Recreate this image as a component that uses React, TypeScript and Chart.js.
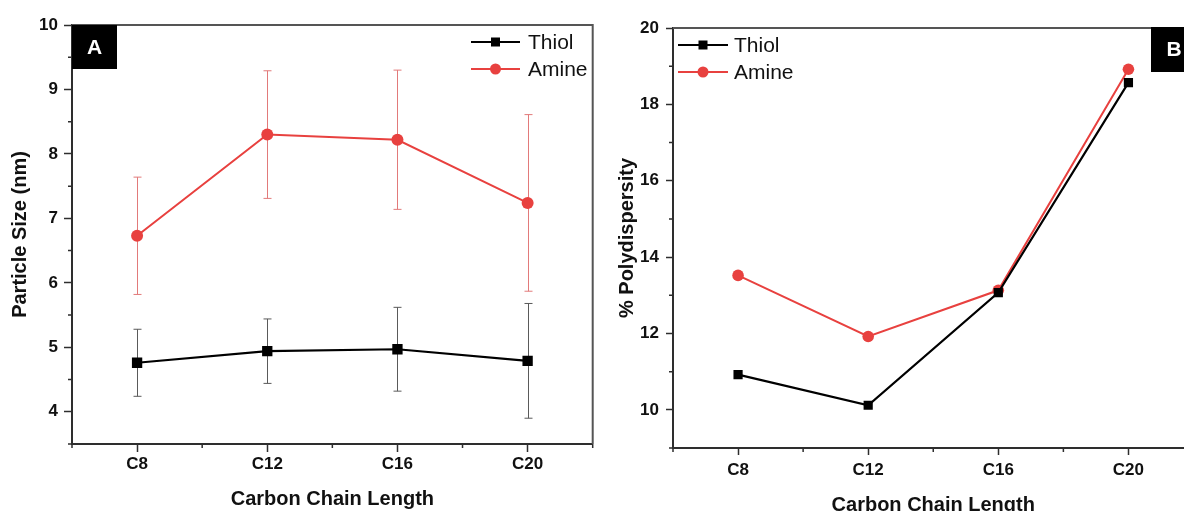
import React, { useEffect, useRef } from 'react';
import { Chart, registerables } from 'chart.js';

Chart.register(...registerables);

// ---------- data ----------
const categories = ['C8', 'C12', 'C16', 'C20'];
const seriesNames = ['Thiol', 'Amine'];

// Panel A: particle size (nm) with error bars
const sizeThiol = [4.76, 4.94, 4.97, 4.79];
const sizeThiolErr = [0.52, 0.5, 0.65, 0.89];
const sizeAmine = [6.73, 8.3, 8.22, 7.24];
const sizeAmineErr = [0.91, 0.99, 1.08, 1.37];
const sizeTicks = [4, 5, 6, 7, 8, 9, 10];
const sizeMinorTicks = [3.5, 4.5, 5.5, 6.5, 7.5, 8.5, 9.5];

// Panel B: % polydispersity
const pdThiol = [10.92, 10.12, 13.07, 18.57];
const pdAmine = [13.52, 11.92, 13.13, 18.92];
const pdTicks = [10, 12, 14, 16, 18, 20];
const pdMinorTicks = [9, 11, 13, 15, 17, 19];

// ---------- styles ----------
const FONT = '"Liberation Sans", Arial, Helvetica, sans-serif';
const BLACK = '#000000';
const RED = '#e8413f';
const AXIS = '#2e2e2e';
const FRAME = '#555555';

const decorPlugin: any = {
  id: 'decor',
  beforeDatasetsDraw(chart: any, _a: any, o: any) {
    const { ctx } = chart;
    const xs = chart.scales.x;
    const ys = chart.scales.y;
    const errs = o.errors || [];
    errs.forEach((eb: any) => {
      const ds = chart.data.datasets[eb.dataset];
      ctx.save();
      ctx.strokeStyle = eb.color;
      ctx.lineWidth = 1;
      ds.data.forEach((v: number, i: number) => {
        const e = eb.values[i];
        const px = Math.round(xs.getPixelForValue(i)) + 0.5;
        const yt = ys.getPixelForValue(v + e);
        const yb = ys.getPixelForValue(v - e);
        const cap = 4;
        ctx.beginPath();
        ctx.moveTo(px, yt);
        ctx.lineTo(px, yb);
        ctx.moveTo(px - cap, yt);
        ctx.lineTo(px + cap, yt);
        ctx.moveTo(px - cap, yb);
        ctx.lineTo(px + cap, yb);
        ctx.stroke();
      });
      ctx.restore();
    });
  },
  afterDraw(chart: any, _a: any, o: any) {
    const { ctx, chartArea } = chart;
    const { left, right, top, bottom } = chartArea;
    const xs = chart.scales.x;
    const ys = chart.scales.y;
    ctx.save();
    // top and right frame
    ctx.strokeStyle = FRAME;
    ctx.lineWidth = 2;
    ctx.beginPath();
    ctx.moveTo(left, top);
    ctx.lineTo(right, top);
    ctx.lineTo(right, bottom);
    ctx.stroke();

    // minor ticks
    ctx.strokeStyle = AXIS;
    ctx.lineWidth = 1.5;
    ctx.beginPath();
    (o.yMinor || []).forEach((v: number) => {
      const py = ys.getPixelForValue(v);
      ctx.moveTo(left, py);
      ctx.lineTo(left - 4, py);
    });
    const n = chart.data.labels.length;
    for (let i = 0; i <= n; i++) {
      const px = xs.getPixelForValue(i - 0.5);
      ctx.moveTo(px, bottom);
      ctx.lineTo(px, bottom + 4);
    }
    ctx.stroke();

    // legend built from datasets
    const lg = o.legend;
    if (lg) {
      chart.data.datasets.forEach((ds: any, i: number) => {
        const cy = lg.y0 + i * lg.dy;
        ctx.strokeStyle = ds.borderColor;
        ctx.lineWidth = 2;
        ctx.beginPath();
        ctx.moveTo(lg.x0, cy);
        ctx.lineTo(lg.x1, cy);
        ctx.stroke();
        const mx = (lg.x0 + lg.x1) / 2;
        ctx.fillStyle = ds.backgroundColor;
        if (ds.pointStyle === 'rect') {
          ctx.fillRect(mx - 4.5, cy - 4.5, 9, 9);
        } else {
          ctx.beginPath();
          ctx.arc(mx, cy, 5.5, 0, Math.PI * 2);
          ctx.fill();
        }
        ctx.fillStyle = '#111';
        ctx.font = `21px ${FONT}`;
        ctx.textAlign = 'left';
        ctx.textBaseline = 'middle';
        ctx.fillText(ds.label, lg.textX, cy + 1);
      });
    }

    // panel letter
    const p = o.panel;
    if (p) {
      ctx.fillStyle = '#000';
      ctx.fillRect(p.x, p.y, p.w, p.h);
      ctx.fillStyle = '#fff';
      ctx.font = `bold 21px ${FONT}`;
      ctx.textAlign = 'center';
      ctx.textBaseline = 'middle';
      ctx.fillText(p.text, p.tx, p.ty);
    }
    ctx.restore();
  },
};

function makeScales(opts: any) {
  return {
    x: {
      type: 'category',
      offset: true,
      afterFit: (s: any) => {
        s.height = opts.xHeight;
      },
      grid: {
        offset: false,
        drawOnChartArea: false,
        drawTicks: true,
        tickLength: opts.tickLen,
        tickColor: AXIS,
        tickWidth: 1.5,
      },
      border: { display: true, color: AXIS, width: 2 },
      ticks: {
        color: '#111',
        padding: opts.xPad,
        font: { family: FONT, size: 17, weight: 'bold' },
      },
      title: {
        display: true,
        text: 'Carbon Chain Length',
        color: '#111',
        font: { family: FONT, size: 20, weight: 'bold' },
        padding: { top: 0, bottom: 0 },
      },
    },
    y: {
      type: 'linear',
      min: opts.min,
      max: opts.max,
      afterFit: (s: any) => {
        s.width = opts.yWidth;
      },
      afterBuildTicks: (s: any) => {
        s.ticks = opts.ticks.map((v: number) => ({ value: v }));
      },
      grid: {
        drawOnChartArea: false,
        drawTicks: true,
        tickLength: opts.tickLen,
        tickColor: AXIS,
        tickWidth: 1.5,
      },
      border: { display: true, color: AXIS, width: 2 },
      ticks: {
        color: '#111',
        padding: opts.yPad,
        font: { family: FONT, size: 17, weight: 'bold' },
        callback: (v: any) => String(v),
      },
      title: {
        display: true,
        text: opts.yTitle,
        color: '#111',
        font: { family: FONT, size: 20, weight: 'bold' },
        padding: { top: opts.yTitlePad, bottom: 0 },
      },
    },
  };
}

function buildDatasets(thiol: number[], amine: number[], sq: number, rad: number) {
  return [
    {
      label: seriesNames[0],
      data: thiol,
      borderColor: BLACK,
      backgroundColor: BLACK,
      borderWidth: 2.2,
      pointStyle: 'rect',
      pointRadius: sq,
      pointBorderWidth: 0,
      tension: 0,
    },
    {
      label: seriesNames[1],
      data: amine,
      borderColor: RED,
      backgroundColor: RED,
      borderWidth: 2,
      pointStyle: 'circle',
      pointRadius: rad,
      pointBorderWidth: 0,
      tension: 0,
    },
  ];
}

export default function App() {
  const refA = useRef<HTMLCanvasElement>(null);
  const refB = useRef<HTMLCanvasElement>(null);

  useEffect(() => {
    const chartA = new Chart(refA.current as HTMLCanvasElement, {
      type: 'line',
      data: {
        labels: categories,
        datasets: buildDatasets(sizeThiol, sizeAmine, 7.3, 6) as any,
      },
      options: {
        animation: false,
        responsive: false,
        devicePixelRatio: 1,
        layout: { padding: { left: 0, right: 7, top: 25, bottom: 0 } },
        scales: makeScales({
          xHeight: 67,
          yWidth: 72,
          min: 3.5,
          max: 10,
          ticks: sizeTicks,
          tickLen: 8,
          xPad: 2,
          yPad: 6,
          yTitle: 'Particle Size (nm)',
          yTitlePad: 8,
        }) as any,
        plugins: {
          legend: { display: false },
          tooltip: { enabled: false },
          decor: {
            errors: [
              { dataset: 0, values: sizeThiolErr, color: '#5a5a5a' },
              { dataset: 1, values: sizeAmineErr, color: '#e27a7a' },
            ],
            yMinor: sizeMinorTicks,
            legend: { x0: 471, x1: 520, textX: 528, y0: 42, dy: 27 },
            panel: { x: 72, y: 25, w: 45, h: 44, text: 'A', tx: 94.5, ty: 48 },
          },
        } as any,
      },
      plugins: [decorPlugin],
    });

    const chartB = new Chart(refB.current as HTMLCanvasElement, {
      type: 'line',
      data: {
        labels: categories,
        datasets: buildDatasets(pdThiol, pdAmine, 6.5, 5.8) as any,
      },
      options: {
        animation: false,
        responsive: false,
        devicePixelRatio: 1,
        layout: { padding: { left: 0, right: 4, top: 28, bottom: 0 } },
        scales: makeScales({
          xHeight: 69,
          yWidth: 73,
          min: 9,
          max: 20,
          ticks: pdTicks,
          tickLen: 7,
          xPad: 5,
          yPad: 7,
          yTitle: '% Polydispersity',
          yTitlePad: 15,
        }) as any,
        plugins: {
          legend: { display: false },
          tooltip: { enabled: false },
          decor: {
            yMinor: pdMinorTicks,
            legend: { x0: 78, x1: 128, textX: 134, y0: 45, dy: 27 },
            panel: { x: 551, y: 27, w: 49, h: 45, text: 'B', tx: 574, ty: 50 },
          },
        } as any,
      },
      plugins: [decorPlugin],
    });

    return () => {
      chartA.destroy();
      chartB.destroy();
    };
  }, []);

  return (
    <div
      style={{
        position: 'fixed',
        left: 0,
        top: 0,
        width: 1184,
        height: 511,
        overflow: 'hidden',
        background: '#fff',
      }}
    >
      <canvas
        ref={refA}
        width={600}
        height={511}
        style={{ position: 'absolute', left: 0, top: 0, display: 'block' }}
      />
      <canvas
        ref={refB}
        width={600}
        height={517}
        style={{ position: 'absolute', left: 600, top: 0, display: 'block' }}
      />
    </div>
  );
}
